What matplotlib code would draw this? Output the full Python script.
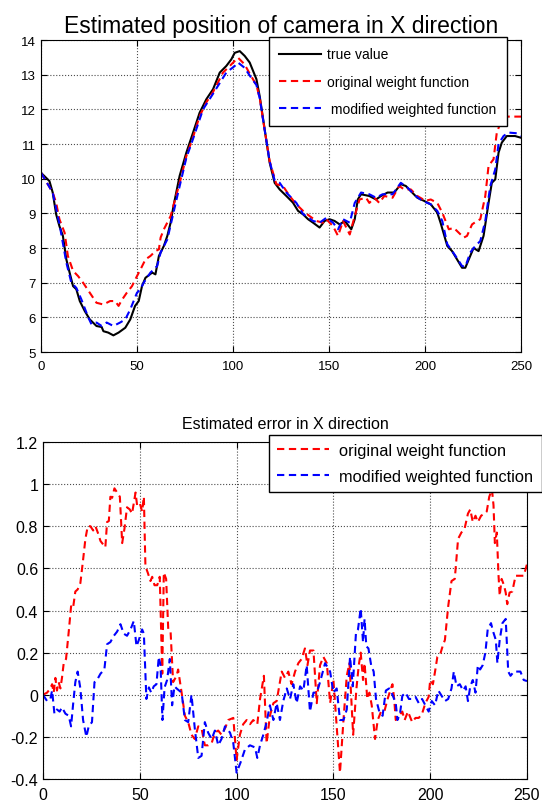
import matplotlib
matplotlib.use("Agg")
import matplotlib.pyplot as plt

plt.rcParams['font.family'] = ['Liberation Sans', 'DejaVu Sans']

# ---------------- top panel data ----------------
true_x = [0,4.4,6.1,7.9,9.6,11.4,13.2,14.9,16.7,18.4,20.2,22.8,25.4,28.9,31.6,32.5,35,37.7,40.4,43.9,
          46.5,49,50.9,52.6,54.4,57.9,59.6,61.4,64,65.8,67.5,69,72.2,75.7,79.2,82.6,86.1,89.6,93.1,96.5,
          99.1,100.9,103.5,106.1,108.7,112.2,113.9,116.5,119.1,121.7,124.3,127.8,131.2,133.9,136.5,139.1,141.7,145.1,147.7,150.3,
          152.9,155.6,158.2,161.6,163.4,165,166.7,171,174.5,177.1,180.5,184,187.4,190,192.6,196,199.5,203,206.4,208.1,
          211.6,214.1,216.7,219.3,221,222.8,225.3,227.9,230.5,233.1,234.8,236.6,238.3,240,242.6,246.9,250]
true_y = [10.17,9.93,9.6,8.97,8.63,8.35,7.67,7.29,6.9,6.81,6.47,6.18,5.94,5.75,5.72,5.6,5.56,5.48,5.56,5.7,
          5.94,6.33,6.47,6.9,7.14,7.29,7.24,7.77,8.06,8.35,8.73,9.21,10.08,10.75,11.33,11.9,12.29,12.58,13.06,13.25,
          13.44,13.63,13.68,13.54,13.35,12.87,12.38,11.42,10.46,9.88,9.69,9.5,9.31,9.07,8.97,8.83,8.73,8.59,8.78,8.83,
          8.78,8.68,8.78,8.54,8.83,9.4,9.55,9.5,9.4,9.5,9.6,9.6,9.84,9.79,9.64,9.45,9.36,9.26,9.02,8.73,
          8.06,7.91,7.67,7.43,7.43,7.67,8.0,7.91,8.35,9.3,9.88,9.98,10.75,11.04,11.23,11.23,11.18]

orig_x = [0,6.1,7.9,9.6,12.3,14,16.7,19.3,21.9,25.4,28.9,32.5,36,38.6,40.4,42.1,44.7,47.4,50,51.8,
          54.4,57,59.6,61.4,62.3,64,67.5,72.8,75.7,79.2,82.6,86.1,89.6,94.8,98.3,102.6,106,109,112.2,114,
          116.5,119.1,122.6,126,129.5,133,136.5,139.9,143.4,146.9,148.6,152.1,154.7,157.3,160.8,163.4,165.9,169.3,171,173.6,
          176.2,178.8,183.1,186.6,189.1,192.6,196,200.3,203,206.4,209,212.4,215,217.6,220.2,221.9,224.5,227.1,228.8,231.4,
          233.1,235.7,237.4,240,241.7,250]
orig_y = [10.17,9.6,9.3,8.83,8.44,7.77,7.34,7.19,7.0,6.71,6.42,6.37,6.47,6.47,6.33,6.5,6.71,6.9,7.19,7.38,
          7.67,7.77,7.91,7.96,8.3,8.54,8.92,10.0,10.65,11.2,11.8,12.2,12.5,13.06,13.25,13.49,13.3,13.0,12.7,12.3,
          11.4,10.5,9.84,9.79,9.5,9.26,9.07,8.92,8.78,8.73,8.83,8.63,8.35,8.78,8.39,8.92,9.4,9.45,9.3,9.45,
          9.3,9.5,9.45,9.79,9.69,9.69,9.5,9.36,9.4,9.3,9.02,8.54,8.58,8.44,8.3,8.35,8.68,8.78,8.83,9.5,
          10.37,10.56,11.33,11.71,11.79,11.79]

mod_x = [0,6.1,9.6,13.2,15.8,18.4,21,24.6,26.3,28.9,31.6,34.2,37.7,41.2,43.9,46.5,50,51.8,53.5,57,
         60.5,62.3,65.8,71,75.7,79.2,84.4,89.6,96.5,100.9,102.6,106,109,112.2,114,116.5,119.1,121.7,124.3,127.8,
         133,136.5,141.7,145.1,148.6,152.1,154.7,157.3,160.8,163.4,166.7,171,174.5,177.9,183.1,187.4,190.9,195.2,198.6,203,
         206.4,209,211.6,215.9,219.3,221,223.6,226.2,228.8,231.4,234,236.6,238.3,240.9,243.4,247.8,250]
mod_y = [10.17,9.6,8.7,7.58,7.0,6.85,6.52,6.0,5.8,5.85,5.75,5.85,5.75,5.85,5.94,6.23,6.71,6.81,7.0,7.29,
         7.48,7.87,8.25,9.5,10.6,11.15,12.0,12.45,13.06,13.25,13.35,13.2,12.95,12.7,12.3,11.4,10.5,9.95,9.88,9.6,
         9.3,8.98,8.78,8.73,8.87,8.73,8.54,8.83,8.73,9.3,9.6,9.55,9.45,9.55,9.55,9.88,9.74,9.5,9.36,9.26,
         9.07,8.78,8.11,7.77,7.48,7.46,7.87,8.06,8.2,8.78,9.79,10.27,11.0,11.23,11.33,11.31,11.23]

# ---------------- bottom panel data ----------------
err_orig_x = [0,2.1,3.8,4.7,5.5,6.4,7.2,8.1,9,9.8,10.7,11.9,13.3,14.5,15.5,16.7,17.9,19.3,20.7,21.9,
              23.1,24.5,25.9,27.1,28.3,29.7,31.4,32.2,33.1,34,34.8,35.7,36.9,38.3,39.7,40.9,42.1,43.4,44.8,46,
              46.9,47.8,48.6,50,51.2,52.1,52.9,54.1,55.5,56.4,57.6,59,60.3,61.6,62.4,63.6,64.7,65.9,
              67.2,69,69.8,71.6,73.3,75,76.7,78.4,80.2,81.9,83.6,85.3,87.1,88.8,90.5,92.2,94,95.7,98.3,100,
              101.7,103.4,105.2,106.9,108.6,110.7,112.1,114.1,115.5,117.2,119,120.7,123.3,125,126.7,128.4,130.2,131.9,133.6,135.3,
              136.6,137.9,139.7,141.4,143.1,144.8,146.6,148.3,150,151.7,153.4,155.2,156.9,158.3,
              160.2,161.9,163.1,164.1,165.3,166.1,167.5,168.6,169.8,171.5,172.9,174.6,176.3,178,179.7,180.5,181.4,182.2,183.9,185.6,
              186.8,188.5,190.7,192.4,194.1,195.8,197.5,199.2,200,201.4,202.5,203.7,205.1,206.4,207.6,209.3,211,212.7,214.4,216.1,
              217.8,219.5,220.7,222,223.4,224.6,226.3,228,229.2,230.5,231.9,232.7,233.4,234.4,235.3,235.9,236.9,238.1,239,239.8,
              241,242.4,244.1,246.6,248.3,250]
err_orig_y = [0,0.01,0.03,0.05,0.01,0.08,0.02,0.06,0.03,0.08,0.15,0.17,0.3,0.42,0.41,0.49,0.5,0.53,0.64,0.74,
              0.8,0.8,0.78,0.8,0.77,0.73,0.71,0.70,0.82,0.825,0.94,0.935,0.98,0.96,0.94,0.72,0.79,0.89,0.88,0.86,
              0.91,0.96,0.9,0.91,0.87,0.94,0.61,0.58,0.54,0.56,0.52,0.52,0.56,0.1,0.58,0.55,0.31,0.3,
              0.06,0.09,0.12,0.01,-0.1,-0.13,-0.19,-0.21,-0.15,-0.16,-0.24,-0.24,-0.23,-0.18,-0.17,-0.19,-0.16,-0.12,-0.11,-0.31,
              -0.19,-0.14,-0.12,-0.14,-0.12,-0.14,-0.02,0.09,-0.23,-0.1,-0.04,-0.03,0.11,0.08,0.11,0.05,0.11,0.15,0.17,0.22,
              0.14,0.21,0.21,-0.04,0.14,0.18,0.15,-0.04,0.07,-0.15,-0.37,-0.12,0.09,0.15,
              -0.19,0.03,0.14,0.2,0.07,0.15,-0.02,0.01,-0.05,-0.21,-0.12,-0.08,-0.08,-0.02,0.03,0.05,-0.02,-0.12,-0.1,-0.08,
              -0.12,-0.08,-0.13,-0.11,-0.11,-0.09,-0.04,-0.01,0.07,0.05,0.11,0.18,0.19,0.23,0.26,0.42,0.54,0.55,0.74,0.77,
              0.79,0.86,0.88,0.82,0.85,0.82,0.85,0.86,0.87,0.94,0.975,0.9,0.72,0.77,0.565,0.47,0.55,0.52,0.485,0.43,
              0.485,0.49,0.565,0.565,0.565,0.62]

err_mod_x = [0,2.1,3.8,4.7,5.9,7.2,8.6,9.8,11.6,13.3,14.5,15.5,16.7,17.9,19.3,20.7,22.4,23.6,25.3,26.6,
             27.9,29.7,31.7,33.1,34.8,36.6,38.3,40,41.7,43.4,45.2,46.9,48.3,49.5,51.2,52.1,53.4,54.7,55.9,57.2,
             58.6,59.8,60.7,61.7,62.8,64.1,65.5,66.7,67.9,
             69,71.6,73.3,75,76.7,78.4,80.2,81.9,83.6,85.3,87.1,88.8,90.5,92.2,94,96.6,98.3,100,102.1,104.3,
             106.9,109.5,110.7,112.1,113.8,115.5,117.2,119,120.7,122.4,124.1,125.9,127.6,129.3,131,132.8,134.5,136.2,137.9,139.7,
             141.4,143.1,145.7,148.3,150,151.7,153.4,155.2,156.9,158.6,160,
             161.7,162.7,164.1,165.3,166.1,167,168.1,169.5,170.8,172,173.7,175.4,177.1,178.8,180.5,182.2,183.1,184.4,185.6,187.3,
             189,190.7,192.4,194.1,195.8,197.5,199.2,200.8,202.5,204.2,205.9,207.6,209.3,211,212.2,213.6,215.3,217,218.3,219.5,
             220.7,222,223.4,224.6,225.8,227.1,228.5,229.7,231.4,232.5,233.9,234.7,235.9,237.3,239,240.3,241.5,243.2,244.9,246.6,
             248.3,250]
err_mod_y = [0,-0.03,-0.02,0.02,-0.09,-0.07,-0.08,-0.06,-0.09,-0.1,-0.15,-0.05,0.06,0.11,0.03,-0.12,-0.2,-0.15,-0.13,0.06,
             0.07,0.1,0.12,0.24,0.25,0.28,0.3,0.335,0.29,0.28,0.31,0.35,0.23,0.26,0.31,0.29,-0.02,0.035,0.01,0.04,
             0.05,0.18,0.14,-0.12,0.035,0.07,0.17,-0.05,0.04,
             0.03,0.01,-0.12,-0.13,0.0,-0.16,-0.3,-0.29,-0.13,-0.18,-0.21,-0.17,-0.24,-0.21,-0.15,-0.18,-0.23,-0.37,-0.32,-0.26,
             -0.24,-0.25,-0.3,-0.24,-0.19,-0.13,-0.05,-0.12,-0.04,-0.12,-0.03,0.03,-0.02,0.05,-0.04,0.04,0.02,0.14,-0.08,0.01,
             0.01,0.06,0.15,0.11,0.01,0.03,-0.12,-0.12,-0.07,0.18,0.04,
             0.3,0.31,0.41,0.25,0.36,0.23,0.22,0.14,0.11,-0.02,-0.08,-0.1,0.02,0.03,0.0,-0.04,-0.12,-0.09,-0.005,0.01,
             -0.02,-0.02,-0.01,-0.04,-0.02,-0.05,-0.08,-0.03,-0.05,0.02,-0.005,-0.03,-0.02,0.03,0.11,0.04,0.05,0.02,0.04,-0.03,
             0.04,0.07,0.01,0.14,0.12,0.14,0.2,0.31,0.34,0.3,0.26,0.15,0.26,0.34,0.36,0.11,0.09,0.11,0.11,0.11,
             0.07,0.065]

x_ticks = [0, 50, 100, 150, 200, 250]
top_yticks = [5, 6, 7, 8, 9, 10, 11, 12, 13, 14]
bot_yticks = [-0.4, -0.2, 0, 0.2, 0.4, 0.6, 0.8, 1, 1.2]
bot_ylabels = ['-0.4', '-0.2', '0', '0.2', '0.4', '0.6', '0.8', '1', '1.2']

fig = plt.figure(figsize=(5.42, 8.04), dpi=100)

def style(ax, fs, xpad, ypad):
    ax.grid(True, linestyle=':', color='0.3', linewidth=0.8)
    ax.set_axisbelow(True)
    ax.tick_params(direction='in', top=True, right=True, length=4, width=0.8, labelsize=fs)
    ax.tick_params(axis='x', pad=xpad)
    ax.tick_params(axis='y', pad=ypad)
    for s in ax.spines.values():
        s.set_linewidth(0.8)

dash = (0, (3.5, 2.2))

# top
ax1 = fig.add_axes([41/542, 1-353/804, 480/542, 312/804])
ax1.plot(true_x, true_y, color='black', linewidth=1.5, label='true value')
ax1.plot(orig_x, orig_y, color='red', linewidth=1.5, linestyle=dash, label='original weight function')
ax1.plot(mod_x, mod_y, color='blue', linewidth=1.5, linestyle=dash, label=' modified weighted function')
ax1.set_xlim(0, 250)
ax1.set_ylim(5, 14)
ax1.set_xticks(x_ticks)
ax1.set_yticks(top_yticks)
style(ax1, 9.5, 5.5, 3.5)
ax1.set_title('Estimated position of camera in X direction', fontsize=16.5, pad=6)
leg1 = ax1.legend(loc='upper right', bbox_to_anchor=(507/542, 1-38/804), bbox_transform=fig.transFigure,
                  fontsize=10, fancybox=False, edgecolor='black', framealpha=1, handlelength=3.0,
                  labelspacing=0.95, borderpad=0.75, handletextpad=0.45, borderaxespad=0)
leg1.get_frame().set_linewidth(1.0)

# bottom
ax2 = fig.add_axes([43/542, 1-780/804, 484/542, 337/804])
ax2.plot(err_orig_x, err_orig_y, color='red', linewidth=1.5, linestyle=dash, label='original weight function')
ax2.plot(err_mod_x, err_mod_y, color='blue', linewidth=1.5, linestyle=dash, label='modified weighted function')
ax2.set_xlim(0, 250)
ax2.set_ylim(-0.4, 1.2)
ax2.set_xticks(x_ticks)
ax2.set_yticks(bot_yticks)
ax2.set_yticklabels(bot_ylabels)
style(ax2, 11.5, 5.5, 3.5)
ax2.set_title('Estimated error in X direction', fontsize=11.5, pad=10)
leg2 = ax2.legend(loc='upper right', bbox_to_anchor=(541.5/542, 1-436/804), bbox_transform=fig.transFigure,
                  fontsize=11.8, fancybox=False, edgecolor='black', framealpha=1, handlelength=3.2,
                  labelspacing=0.65, borderpad=0.5, handletextpad=0.6, borderaxespad=0)
leg2.get_frame().set_linewidth(1.0)

fig.savefig('out.png', dpi=100)
